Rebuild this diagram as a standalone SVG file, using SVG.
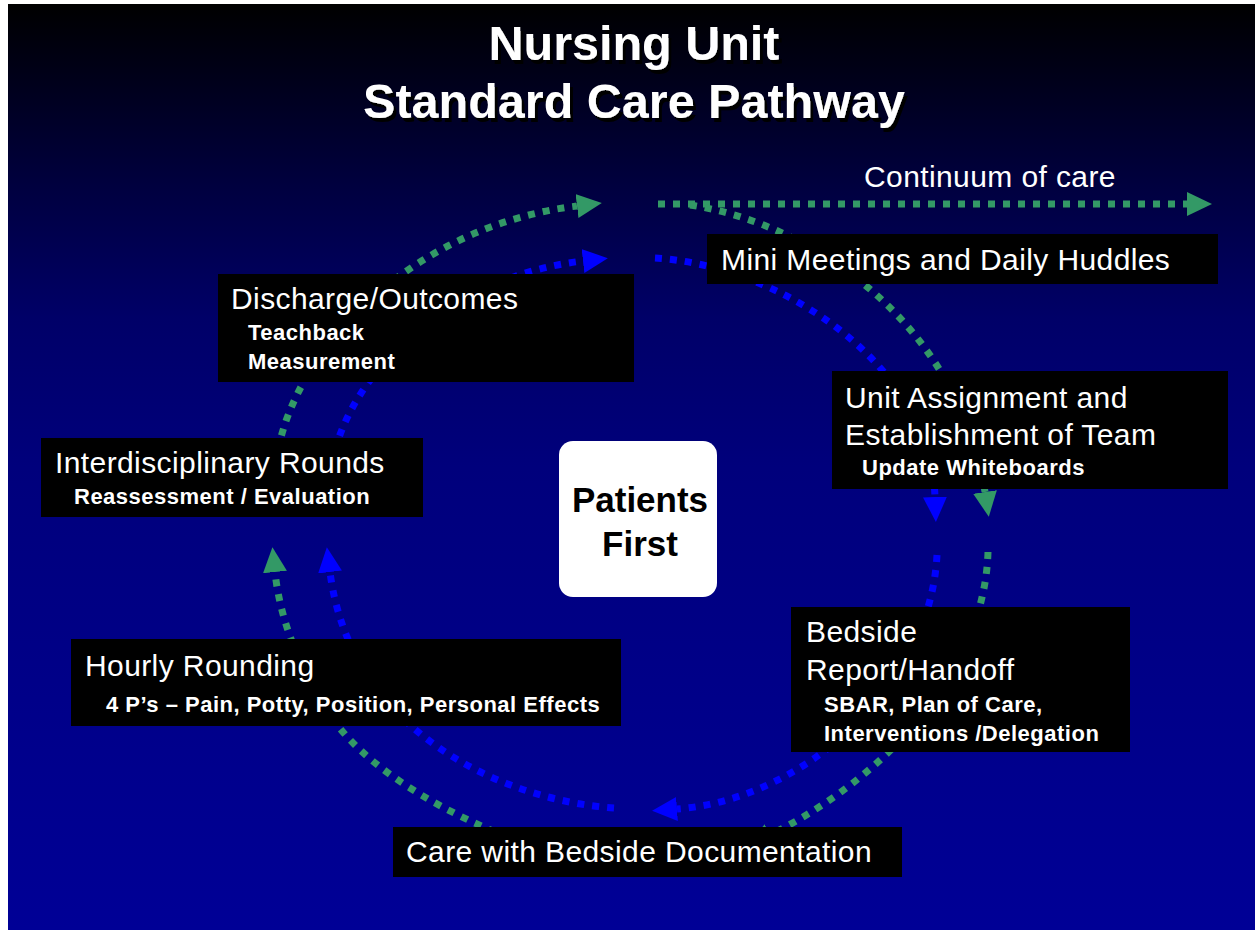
<svg xmlns="http://www.w3.org/2000/svg" width="1255" height="937" viewBox="0 0 1255 937">
<defs>
<linearGradient id="bg" x1="0" y1="0" x2="0" y2="1">
<stop offset="0" stop-color="#000000"/>
<stop offset="0.2" stop-color="#000040"/>
<stop offset="0.34" stop-color="#000068"/>
<stop offset="0.5" stop-color="#00007c"/>
<stop offset="1" stop-color="#000096"/>
</linearGradient>
<marker id="ag" markerUnits="userSpaceOnUse" markerWidth="25" markerHeight="24" viewBox="0 0 24 23" refX="0" refY="11.5" orient="auto">
<path d="M0 0 L24 11.5 L0 23 Z" fill="#339966"/>
</marker>
<marker id="ab" markerUnits="userSpaceOnUse" markerWidth="25" markerHeight="24" viewBox="0 0 24 23" refX="0" refY="11.5" orient="auto">
<path d="M0 0 L24 11.5 L0 23 Z" fill="#0000ff"/>
</marker>
<filter id="sh" x="-10%" y="-10%" width="120%" height="130%">
<feOffset dx="3" dy="4" in="SourceAlpha" result="o"/>
<feFlood flood-color="#000000"/>
<feComposite in2="o" operator="in" result="s"/>
<feMerge><feMergeNode in="s"/><feMergeNode in="SourceGraphic"/></feMerge>
</filter>
</defs>
<style>
.g{fill:none;stroke:#339966;stroke-width:7;stroke-dasharray:7 8;marker-end:url(#ag)}
.b{fill:none;stroke:#0000ff;stroke-width:7;stroke-dasharray:7 8;marker-end:url(#ab)}
.box{fill:#000000}
.t{font-family:"Liberation Sans",Arial,sans-serif;fill:#ffffff;font-size:30px;letter-spacing:0.4px}
.s{font-family:"Liberation Sans",Arial,sans-serif;fill:#ffffff;font-size:22px;font-weight:bold;letter-spacing:0.5px}
.title{font-family:"Liberation Sans",Arial,sans-serif;fill:#ffffff;font-size:48.5px;font-weight:bold}
.pf{font-family:"Liberation Sans",Arial,sans-serif;fill:#000000;font-size:35px;font-weight:bold}
</style>
<rect x="0" y="0" width="1255" height="937" fill="#ffffff"/>
<rect x="8" y="4" width="1247" height="926" fill="url(#bg)"/>

<g id="title" filter="url(#sh)">
<text class="title" x="634" y="60" text-anchor="middle">Nursing Unit</text>
<text class="title" x="634" y="118" text-anchor="middle">Standard Care Pathway</text>
</g>

<g id="connectors">
<path class="g" d="M658 204 L1187 204"/>
<path class="g" d="M278 450 C300 340 420 225 577 206"/>
<path class="g" d="M690 205 C820 225 960 330 985 492"/>
<path class="g" d="M988 552 C985 660 900 770 770 835"/>
<path class="g" d="M495 832 C420 800 360 760 330 715 C300 670 280 620 275 572"/>
<path class="b" d="M335 450 C360 360 460 275 583 261"/>
<path class="b" d="M655 258 C775 265 930 360 935 497"/>
<path class="b" d="M937 555 C930 690 800 800 677 809"/>
<path class="b" d="M614 808 C500 800 350 730 330 572"/>
</g>

<g id="continuum">
<text class="t" x="864" y="187">Continuum of care</text>
</g>

<g id="discharge">
<rect class="box" x="218" y="274" width="416" height="108"/>
<text class="t" x="231" y="309">Discharge/Outcomes</text>
<text class="s" x="248" y="340">Teachback</text>
<text class="s" x="248" y="369">Measurement</text>
</g>

<g id="mini">
<rect class="box" x="707" y="234" width="511" height="50"/>
<text class="t" x="721" y="270">Mini Meetings and Daily Huddles</text>
</g>

<g id="unit">
<rect class="box" x="832" y="371" width="396" height="118"/>
<text class="t" x="845" y="408">Unit Assignment and</text>
<text class="t" x="845" y="445">Establishment of Team</text>
<text class="s" x="862" y="475">Update Whiteboards</text>
</g>

<g id="interdisciplinary">
<rect class="box" x="41" y="438" width="382" height="79"/>
<text class="t" x="55" y="473">Interdisciplinary Rounds</text>
<text class="s" x="74" y="504">Reassessment / Evaluation</text>
</g>

<g id="patients">
<rect x="559" y="441" width="158" height="156" rx="14" fill="#ffffff"/>
<text class="pf" x="640" y="512" text-anchor="middle">Patients</text>
<text class="pf" x="640" y="556" text-anchor="middle">First</text>
</g>

<g id="hourly">
<rect class="box" x="71" y="639" width="550" height="87"/>
<text class="t" x="85" y="676">Hourly Rounding</text>
<text class="s" x="106" y="712">4 P’s – Pain, Potty, Position, Personal Effects</text>
</g>

<g id="bedside">
<rect class="box" x="791" y="607" width="339" height="145"/>
<text class="t" x="806" y="642">Bedside</text>
<text class="t" x="806" y="680">Report/Handoff</text>
<text class="s" x="824" y="712">SBAR, Plan of Care,</text>
<text class="s" x="824" y="741">Interventions /Delegation</text>
</g>

<g id="care">
<rect class="box" x="393" y="827" width="509" height="50"/>
<text class="t" x="406" y="862">Care with Bedside Documentation</text>
</g>
</svg>
